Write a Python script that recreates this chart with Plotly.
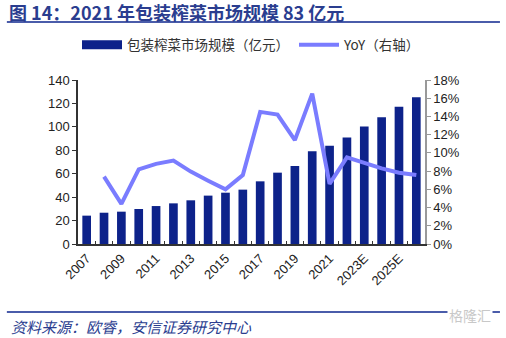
import plotly.graph_objects as go

years = ["2007", "2008", "2009", "2010", "2011", "2012", "2013", "2014", "2015", "2016",
         "2017", "2018", "2019", "2020", "2021", "2022E", "2023E", "2024E", "2025E", "2026E"]
market_size = [24.2, 26.7, 27.6, 29.9, 32.4, 34.7, 37.3, 41.3, 43.8, 46.4,
               53.5, 60.9, 66.6, 79.1, 83.9, 91.0, 100.2, 108.1, 117.2, 125.2]
yoy = [None, 7.4, 4.4, 8.2, 8.8, 9.15, 7.95, 6.95, 6.0, 7.57,
       14.5, 14.2, 11.4, 16.5, 6.6, 9.5, 8.85, 8.3, 7.83, 7.57]
tick_labels = ["2007", "", "2009", "", "2011", "", "2013", "", "2015", "",
               "2017", "", "2019", "", "2021", "", "2023E", "", "2025E", ""]

BAR = "#0d228a"
LINE = "#7a7cff"
BLUE_TXT = "#2a3d8f"
FONT = "Liberation Sans, Arial, sans-serif"
CJK = "Noto Sans CJK SC"

fig = go.Figure()
fig.add_trace(go.Bar(x=years, y=market_size, name="包装榨菜市场规模（亿元）",
                     marker=dict(color=BAR, line=dict(width=0)), showlegend=False))
# legend proxy for the bar series (wide rectangular swatch as in the reference)
fig.add_trace(go.Scatter(x=[None], y=[None], name="包装榨菜市场规模（亿元）",
                         mode="lines", line=dict(color=BAR, width=9)))
fig.add_trace(go.Scatter(x=years, y=yoy, name="YoY（右轴）", yaxis="y2",
                         mode="lines", line=dict(color=LINE, width=4)))

fig.update_layout(
    width=506, height=338,
    margin=dict(l=78, r=81, t=80, b=94),
    paper_bgcolor="white", plot_bgcolor="white",
    bargap=0.5,
    font=dict(family=FONT, size=13, color="#222"),
    showlegend=True,
    legend=dict(orientation="h", x=0.5, xanchor="center", y=1.213, yanchor="middle",
                font=dict(family=CJK + ", " + FONT, size=13.5, color="#333"),
                itemwidth=40, tracegroupgap=0, bgcolor="rgba(0,0,0,0)"),
    xaxis=dict(type="category", tickmode="array", tickvals=years, ticktext=tick_labels,
               tickangle=-45, tickson="boundaries", ticks="inside", ticklen=3,
               tickcolor="#333", showline=True, linecolor="#333", linewidth=1.5,
               showgrid=False, zeroline=False, tickfont=dict(size=13, color="#222")),
    yaxis=dict(range=[0, 140], dtick=20, ticks="outside", ticklen=4, tickcolor="#333",
               showline=True, linecolor="#333", linewidth=1.5, showgrid=False,
               zeroline=False, tickfont=dict(size=13, color="#222")),
    yaxis2=dict(range=[0, 18], dtick=2, overlaying="y", side="right", ticksuffix="%",
                ticks="outside", ticklen=4, tickcolor="#999", showline=True,
                linecolor="#999", linewidth=1.5, showgrid=False, zeroline=False,
                tickfont=dict(size=13, color="#222")),
)

fig.add_annotation(text="<b>图 14：2021 年包装榨菜市场规模 83 亿元</b>",
                   xref="paper", yref="paper", x=-0.205, y=1.415, xanchor="left",
                   yanchor="middle", showarrow=False,
                   font=dict(family=CJK, size=18, color=BLUE_TXT))
fig.add_shape(type="line", xref="paper", yref="paper", x0=-0.205, x1=1.216,
              y0=1.354, y1=1.354, line=dict(color="#4a5caa", width=2))
fig.add_shape(type="line", xref="paper", yref="paper", x0=-0.205, x1=1.216,
              y0=-0.415, y1=-0.415, line=dict(color="#4a5caa", width=2))
fig.add_annotation(text="<i>资料来源：欧睿，安信证券研究中心</i>",
                   xref="paper", yref="paper", x=-0.2, y=-0.5, xanchor="left",
                   yanchor="middle", showarrow=False,
                   font=dict(family=CJK, size=15, color=BLUE_TXT))
fig.add_annotation(text="格隆汇", xref="paper", yref="paper", x=1.195, y=-0.435,
                   xanchor="right", yanchor="middle", showarrow=False,
                   bgcolor="white", font=dict(family=CJK, size=14, color="#c8c8c8"))

fig.write_html("out.html")
